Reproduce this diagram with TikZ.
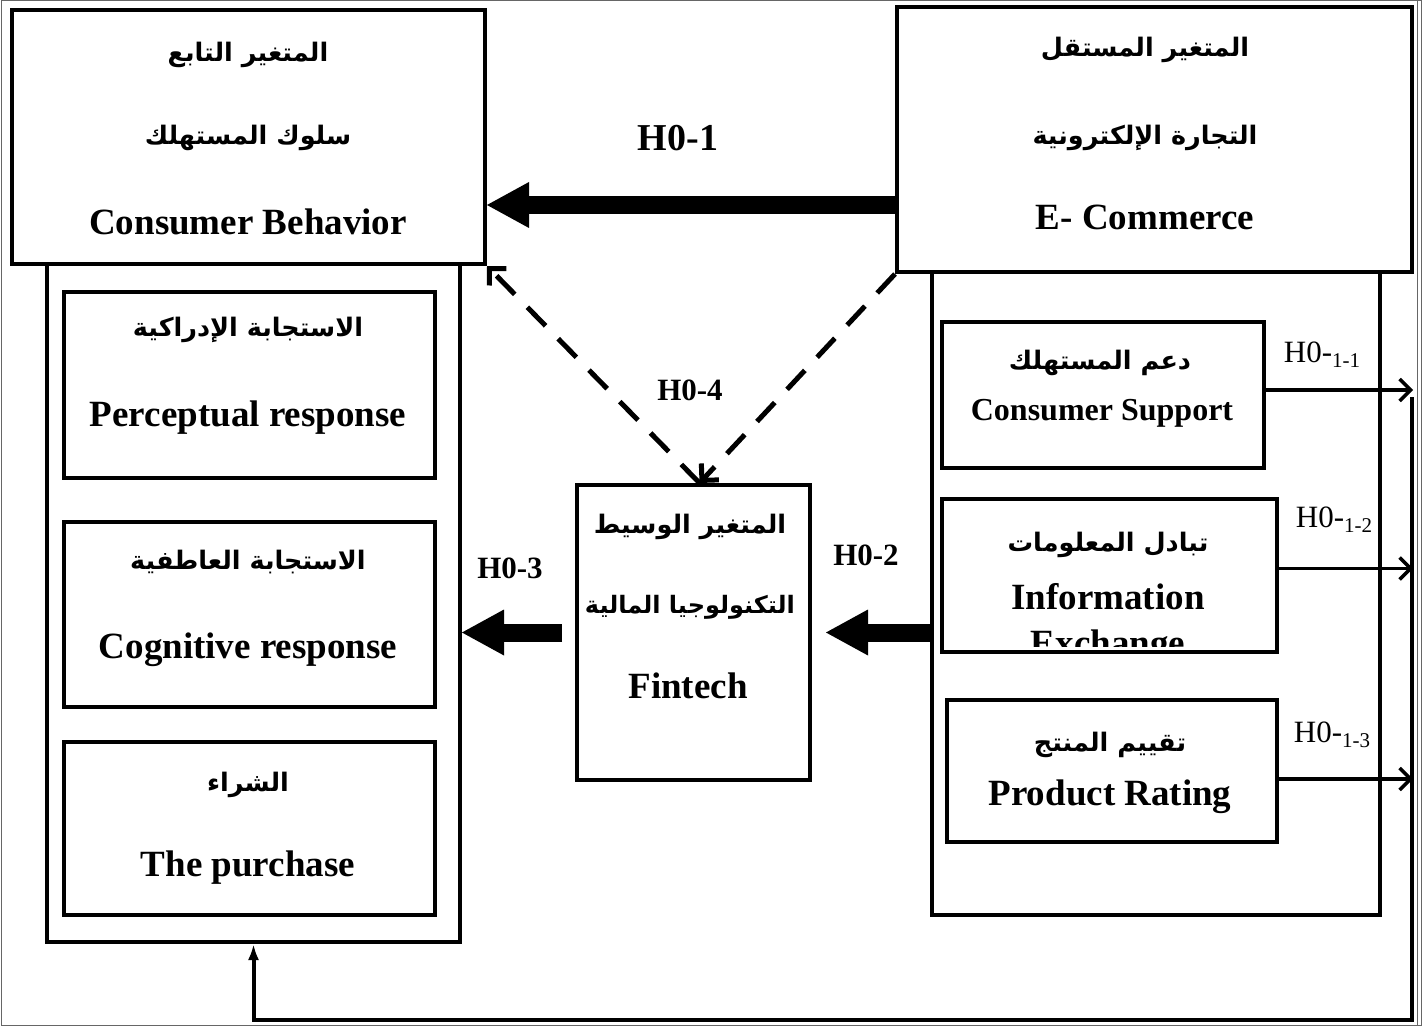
\documentclass[tikz,border=0pt]{standalone}
\usepackage{fontspec}
\setmainfont{Liberation Serif}
\TeXXeTstate=1
\newfontfamily\arabicfont[Script=Arabic]{DejaVu Sans}
\usetikzlibrary{arrows.meta}
\tikzset{
  box/.style={draw, line width=4pt, anchor=north west, inner sep=0pt},
  ar/.style={font=\arabicfont\bfseries\fontsize{25.5}{30}\selectfont},
  arsmall/.style={font=\arabicfont\bfseries\fontsize{24}{28}\selectfont},
  en/.style={font=\bfseries\fontsize{37}{44}\selectfont},
  ensmall/.style={font=\bfseries\fontsize{32}{36}\selectfont},
  hyp/.style={font=\bfseries\fontsize{31}{36}\selectfont},
  subhyp/.style={font=\fontsize{31}{36}\selectfont},
  bigarrow/.style={line width=18pt, -{Triangle[length=42pt,width=46pt,line width=0pt]}},
  dasharrow/.style={line width=5pt, dash pattern=on 26pt off 18pt, -{Straight Barb[length=12pt,width=24pt]}},
  subarrow/.style={line width=3.5pt, -{Straight Barb[length=11pt,width=22pt]}},
  feed/.style={line width=4pt, -{Latex[length=16pt,width=11pt]}}
}
\newcommand{\hsub}[1]{H0-{\fontsize{21}{21}\selectfont\raisebox{-5pt}{#1}}}
\begin{document}
\begin{tikzpicture}[x=1pt,y=-1pt]
    \useasboundingbox (0,0) rectangle (1424,1027);
    % Page frame
    \draw[line width=1pt, black!60] (1,1) rectangle (1421,1025);
    \draw[line width=1pt, black!60] (1417,1) -- (1417,1025);

    % Dependent variable
    \node[box, minimum width=473pt, minimum height=254pt] (cb) at (10,8) {};
    \node[box, minimum width=413pt, minimum height=678pt] (lc) at (45,262) {};
    \node[box, minimum width=371pt, minimum height=186pt] (pr) at (62,290) {};
    \node[box, minimum width=371pt, minimum height=185pt] (cg) at (62,520) {};
    \node[box, minimum width=371pt, minimum height=173pt] (pu) at (62,740) {};

    % Independent variable
    \node[box, minimum width=448pt, minimum height=643pt] (rc) at (930,270) {};
    \node[box, minimum width=515pt, minimum height=265pt] (ec) at (895,5) {};
    \node[box, minimum width=322pt, minimum height=146pt] (cs) at (940,320) {};
    \node[box, minimum width=335pt, minimum height=153pt] (ie) at (940,497) {};
    \node[box, minimum width=330pt, minimum height=142pt] (rt) at (945,698) {};

    % Mediator
    \node[box, minimum width=233pt, minimum height=295pt] (fin) at (575,483) {};

    % Texts: dependent variable
    \node[ar] (cb1) at (248,55) {\beginR المتغير التابع\endR};
    \node[ar] (cb2) at (248,138) {\beginR سلوك المستهلك\endR};
    \node[en] (cb3) at (248,222) {Consumer Behavior};
    \node[ar] (pr1) at (248,330) {\beginR الاستجابة الإدراكية\endR};
    \node[en] (pr2) at (248,418) {Perceptual response};
    \node[ar] (cg1) at (248,562) {\beginR الاستجابة العاطفية\endR};
    \node[en] (cg2) at (248,650) {Cognitive response};
    \node[ar] (pu1) at (248,785) {\beginR الشراء\endR};
    \node[en] (pu2) at (248,868) {The purchase};

    % Texts: independent variable
    \node[ar] (ec1) at (1145,50) {\beginR المتغير المستقل\endR};
    \node[ar] (ec2) at (1145,138) {\beginR التجارة الإلكترونية\endR};
    \node[en] (ec3) at (1145,217) {E- Commerce};
    \node[ar] (cs1) at (1100,363) {\beginR دعم المستهلك\endR};
    \node[ensmall] (cs2) at (1102,413) {Consumer Support};
    \node[ar] (ie1) at (1108,545) {\beginR تبادل المعلومات\endR};
    \node[en] (ie2) at (1108,597) {Information};
    \begin{scope}
      \clip (942,499) rectangle (1273,646);
      \node[en, anchor=base] (ie3) at (1108,655) {Exchange};
    \end{scope}
    \node[ar] (rt1) at (1110,745) {\beginR تقييم المنتج\endR};
    \node[en] (rt2) at (1110,797) {Product Rating};

    % Texts: mediator
    \node[ar] (fin1) at (690,527) {\beginR المتغير الوسيط\endR};
    \node[arsmall] (fin2) at (690,607) {\beginR التكنولوجيا المالية\endR};
    \node[en] (fin3) at (688,686) {Fintech};

    % Main hypotheses
    \coordinate (h1) at (0,205);
    \draw[bigarrow] (h1 -| ec.west) -- (h1 -| cb.east);
    \node[font=\bfseries\fontsize{38}{44}\selectfont] (l1) at (678,138) {H0-1};
    \draw[bigarrow, shorten <=13pt] (fin.west) -- (fin.west -| lc.east);
    \node[hyp] (l3) at (510,568) {H0-3};
    \draw[bigarrow, shorten >=14pt] (rc.west |- fin.west) -- (fin.east);
    \node[hyp] (l2) at (866,555) {H0-2};
    \draw[dasharrow] (ec.south west) -- ([xshift=6pt]fin.north);
    \draw[dasharrow] ([xshift=6pt]fin.north) -- (cb.south east);
    \node[hyp] (l4) at (690,390) {H0-4};

    % Sub-hypotheses
    \coordinate (rail) at (1413,0);
    \draw[subarrow] ([yshift=5pt]cs.east) -- ([yshift=5pt]cs.east -| rail);
    \draw[subarrow] ([yshift=7pt]ie.east) -- ([yshift=7pt]ie.east -| rail);
    \draw[subarrow] ([yshift=-8pt]rt.east) -- ([yshift=-8pt]rt.east -| rail);
    \node[subhyp] (s1) at (1322,355) {\hsub{1-1}};
    \node[subhyp] (s2) at (1334,520) {\hsub{1-2}};
    \node[subhyp] (s3) at (1332,735) {\hsub{1-3}};

    % Feedback to consumer behavior
    \coordinate (rtop) at (1412,397);
    \coordinate (rbot) at (1412,1020);
    \draw[feed] (rtop) -- (rbot) -| (lc.south);
\end{tikzpicture}
\end{document}
